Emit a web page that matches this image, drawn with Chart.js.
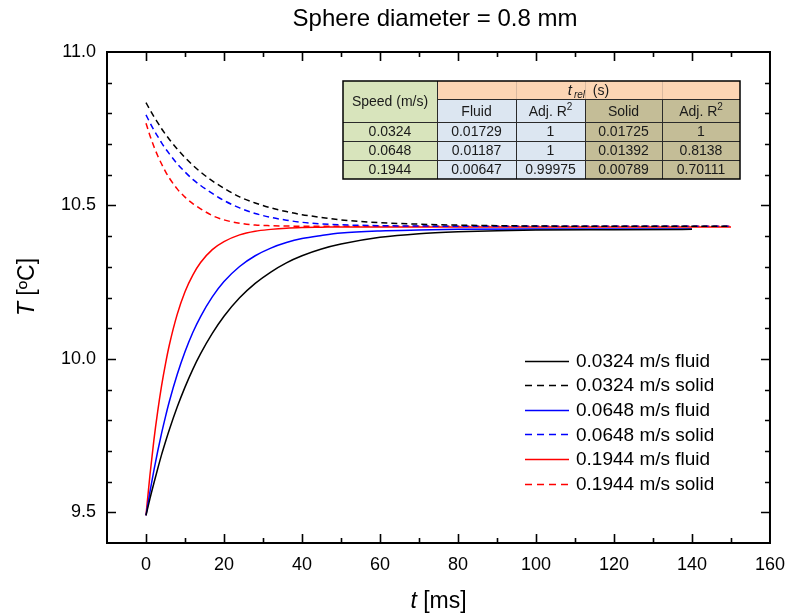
<!DOCTYPE html>
<html>
<head>
<meta charset="utf-8">
<script src="https://cdn.jsdelivr.net/npm/chart.js@4/dist/chart.umd.min.js"></script>
<style>
  html, body { margin: 0; padding: 0; background: #fff; }
  #wrap { width: 796px; height: 616px; }
</style>
</head>
<body>
<div id="wrap"><canvas id="c" width="796" height="616"></canvas></div>
<script>
// Sample times (ms)
const timeMs = [0, 1, 2, 3, 4, 5, 6, 8, 10, 12, 14, 17, 20, 24, 28, 32, 36, 40, 45, 50, 60, 70, 80, 100, 120, 140, 150];

// Temperature (°C) of the fluid and solid for each flow speed
const fluid0324 = [9.490, 9.544, 9.594, 9.642, 9.688, 9.730, 9.770, 9.843, 9.908, 9.966, 10.017, 10.083, 10.139, 10.199, 10.246, 10.283, 10.313, 10.336, 10.358, 10.374, 10.396, 10.408, 10.414, 10.420, 10.421, 10.422];
const solid0324 = [10.835, 10.812, 10.790, 10.770, 10.750, 10.732, 10.715, 10.684, 10.656, 10.631, 10.609, 10.580, 10.556, 10.528, 10.508, 10.492, 10.480, 10.470, 10.461, 10.453, 10.444, 10.439, 10.436, 10.433, 10.432, 10.432, 10.432];
const fluid0648 = [9.490, 9.566, 9.635, 9.699, 9.758, 9.812, 9.862, 9.949, 10.023, 10.086, 10.138, 10.202, 10.252, 10.301, 10.336, 10.361, 10.379, 10.392, 10.402, 10.410, 10.417, 10.420, 10.422, 10.423, 10.423, 10.423];
const solid0648 = [10.795, 10.770, 10.746, 10.725, 10.704, 10.685, 10.668, 10.636, 10.609, 10.585, 10.565, 10.539, 10.516, 10.492, 10.474, 10.461, 10.452, 10.445, 10.440, 10.437, 10.434, 10.433, 10.432, 10.432, 10.432, 10.432, 10.432];
const fluid1944 = [9.490, 9.620, 9.733, 9.829, 9.913, 9.984, 10.046, 10.145, 10.219, 10.273, 10.314, 10.356, 10.382, 10.404, 10.416, 10.422, 10.426, 10.428, 10.429, 10.430, 10.430, 10.430, 10.430, 10.430, 10.430, 10.430, 10.430];
const solid1944 = [10.768, 10.728, 10.693, 10.662, 10.635, 10.610, 10.589, 10.554, 10.527, 10.506, 10.489, 10.467, 10.453, 10.442, 10.436, 10.434, 10.433, 10.432, 10.432, 10.432, 10.432, 10.432, 10.432, 10.432, 10.432, 10.432, 10.432];

// Axis ticks
const xTickValues = [0, 20, 40, 60, 80, 100, 120, 140, 160];
const yTickValues = [9.5, 10.0, 10.5, 11.0];

// Relaxation-time table
const tableSpeeds = ['0.0324', '0.0648', '0.1944'];
const tableFluidTau = ['0.01729', '0.01187', '0.00647'];
const tableFluidR2 = ['1', '1', '0.99975'];
const tableSolidTau = ['0.01725', '0.01392', '0.00789'];
const tableSolidR2 = ['1', '0.8138', '0.70111'];

const FONT = '"Liberation Sans", Arial, sans-serif';

function series(values) {
  return values.map((v, i) => ({ x: timeMs[i], y: v }));
}
function line(label, values, color, dashed) {
  return {
    label, data: series(values), borderColor: color, backgroundColor: color,
    borderWidth: 1.5, borderDash: dashed ? [6, 4] : [], pointRadius: 0,
    fill: false, cubicInterpolationMode: 'monotone'
  };
}

const datasets = [
  line('0.0324 m/s fluid', fluid0324, '#000000', false),
  line('0.0324 m/s solid', solid0324, '#000000', true),
  line('0.0648 m/s fluid', fluid0648, '#0000ff', false),
  line('0.0648 m/s solid', solid0648, '#0000ff', true),
  line('0.1944 m/s fluid', fluid1944, '#ff0000', false),
  line('0.1944 m/s solid', solid1944, '#ff0000', true)
];

// Frame with inward major/minor ticks on all four sides
const frameTicks = {
  id: 'frameTicks',
  afterDatasetsDraw(chart) {
    const { ctx, chartArea: a, scales: { x, y } } = chart;
    ctx.save();
    ctx.strokeStyle = '#000';
    ctx.lineWidth = 1.6;
    ctx.beginPath();
    for (let k = -1; k <= 16; k++) {
      const px = Math.round(x.getPixelForValue(k * 10)) + 0.5;
      if (px < a.left + 1 || px > a.right - 1) continue;
      const len = (k % 2 === 0) ? 9 : 5;
      ctx.moveTo(px, a.bottom); ctx.lineTo(px, a.bottom - len);
      ctx.moveTo(px, a.top); ctx.lineTo(px, a.top + len);
    }
    for (let k = 94; k <= 110; k++) {
      const py = Math.round(y.getPixelForValue(k / 10)) + 0.5;
      if (py < a.top + 1 || py > a.bottom - 1) continue;
      const len = (k % 5 === 0) ? 9 : 5;
      ctx.moveTo(a.left, py); ctx.lineTo(a.left + len, py);
      ctx.moveTo(a.right, py); ctx.lineTo(a.right - len, py);
    }
    ctx.stroke();
    ctx.lineWidth = 2;
    ctx.strokeRect(a.left, a.top, a.right - a.left, a.bottom - a.top);
    ctx.restore();
  }
};

// Titles, legend and the relaxation-time table
const annotations = {
  id: 'annotations',
  afterDraw(chart) {
    const { ctx, chartArea: a } = chart;
    ctx.save();
    ctx.fillStyle = '#000';

    // chart title
    ctx.font = '24px ' + FONT;
    ctx.textAlign = 'center';
    ctx.textBaseline = 'alphabetic';
    ctx.fillText('Sphere diameter = 0.8 mm', 435, 26);

    // x axis title: italic t
    drawMixed(ctx, [['t', 'italic 23px ' + FONT], [' [ms]', '23px ' + FONT]], (a.left + a.right) / 2, 608);
    // y axis title, rotated
    ctx.save();
    ctx.translate(34, 287);
    ctx.rotate(-Math.PI / 2);
    drawMixed(ctx, [['T', 'italic 23px ' + FONT], [' [\u00baC]', '23px ' + FONT]], 0, 0);
    ctx.restore();

    // legend
    ctx.font = '19px ' + FONT;
    ctx.textAlign = 'left';
    ctx.textBaseline = 'middle';
    chart.data.datasets.forEach((ds, i) => {
      const yy = 360.5 + i * 24.6;
      ctx.strokeStyle = ds.borderColor;
      ctx.lineWidth = 1.5;
      ctx.setLineDash(ds.borderDash.length ? [7, 5] : []);
      ctx.beginPath();
      ctx.moveTo(525, Math.round(yy) + 0.5);
      ctx.lineTo(569, Math.round(yy) + 0.5);
      ctx.stroke();
      ctx.setLineDash([]);
      ctx.fillStyle = '#000';
      ctx.fillText(ds.label, 576, yy + 1);
    });

    drawTable(ctx);
    ctx.restore();
  }
};

function drawMixed(ctx, parts, cx, baseY) {
  let total = 0;
  parts.forEach(p => { ctx.font = p[1]; total += ctx.measureText(p[0]).width; });
  let xx = cx - total / 2;
  ctx.textAlign = 'left';
  ctx.textBaseline = 'alphabetic';
  parts.forEach(p => {
    ctx.font = p[1];
    ctx.fillText(p[0], xx, baseY);
    xx += ctx.measureText(p[0]).width;
  });
}

function drawTable(ctx) {
  const cols = [343, 437, 516, 585, 662, 740];
  const rows = [81, 99, 122, 141, 160, 179];
  const green = '#d8e4bc', peach = '#fcd5b4', blue = '#dce6f1', tan = '#c4bd97';
  ctx.fillStyle = green;
  ctx.fillRect(cols[0], rows[0], cols[1] - cols[0], rows[5] - rows[0]);
  ctx.fillStyle = peach;
  ctx.fillRect(cols[1], rows[0], cols[5] - cols[1], rows[1] - rows[0]);
  ctx.fillStyle = blue;
  ctx.fillRect(cols[1], rows[1], cols[3] - cols[1], rows[5] - rows[1]);
  ctx.fillStyle = tan;
  ctx.fillRect(cols[3], rows[1], cols[5] - cols[3], rows[5] - rows[1]);

  // inner grid
  ctx.strokeStyle = '#2a2a2a';
  ctx.lineWidth = 1;
  ctx.beginPath();
  for (let r = 2; r <= 4; r++) {
    ctx.moveTo(cols[0], rows[r] + 0.5); ctx.lineTo(cols[5], rows[r] + 0.5);
  }
  ctx.moveTo(cols[1], rows[1] + 0.5); ctx.lineTo(cols[5], rows[1] + 0.5);
  for (let c = 1; c <= 4; c++) {
    const top = c === 1 ? rows[0] : rows[1];
    ctx.moveTo(cols[c] + 0.5, top); ctx.lineTo(cols[c] + 0.5, rows[5]);
  }
  ctx.stroke();
  // faint column guides inside the merged header
  ctx.strokeStyle = '#d9b9a0';
  ctx.beginPath();
  for (let c = 2; c <= 4; c++) {
    ctx.moveTo(cols[c] + 0.5, rows[0]); ctx.lineTo(cols[c] + 0.5, rows[1]);
  }
  ctx.stroke();
  // outer border
  ctx.strokeStyle = '#000';
  ctx.lineWidth = 1.5;
  ctx.strokeRect(cols[0], rows[0], cols[5] - cols[0], rows[5] - rows[0]);

  const cx = i => (cols[i] + cols[i + 1]) / 2;
  const cy = r => (rows[r] + rows[r + 1]) / 2;
  ctx.fillStyle = '#1a1a1a';
  ctx.textBaseline = 'middle';
  ctx.textAlign = 'center';
  ctx.font = '14px ' + FONT;
  ctx.fillText('Speed (m/s)', cx(0), (rows[0] + rows[2]) / 2 + 1);

  // merged header: t_rel (s)
  const f1 = 'italic 15px ' + FONT, f2 = 'italic 10px ' + FONT, f3 = '14px ' + FONT;
  ctx.textAlign = 'left';
  ctx.textBaseline = 'alphabetic';
  ctx.font = f1; const w1 = ctx.measureText('t').width;
  ctx.font = f2; const w2 = ctx.measureText('rel').width;
  ctx.font = f3; const w3 = ctx.measureText('  (s)').width;
  let hx = (cols[1] + cols[5]) / 2 - (w1 + 2 + w2 + w3) / 2;
  const hb = rows[1] - 4;
  ctx.font = f1; ctx.fillText('t', hx, hb); hx += w1 + 2;
  ctx.font = f2; ctx.fillText('rel', hx, hb + 3); hx += w2;
  ctx.font = f3; ctx.fillText('  (s)', hx, hb);

  // second header row
  ctx.textAlign = 'center';
  ctx.textBaseline = 'middle';
  ctx.font = '14px ' + FONT;
  ctx.fillText('Fluid', cx(1), cy(1) + 2);
  ctx.fillText('Solid', cx(3), cy(1) + 2);
  [2, 4].forEach(i => {
    ctx.font = '14px ' + FONT;
    const wa = ctx.measureText('Adj. R').width;
    ctx.font = '10px ' + FONT;
    const wb = ctx.measureText('2').width;
    const sx = cx(i) - (wa + wb) / 2;
    ctx.textAlign = 'left';
    ctx.font = '14px ' + FONT;
    ctx.fillText('Adj. R', sx, cy(1) + 2);
    ctx.font = '10px ' + FONT;
    ctx.fillText('2', sx + wa, cy(1) - 3);
    ctx.textAlign = 'center';
  });

  // data rows
  ctx.font = '14px ' + FONT;
  tableSpeeds.forEach((s, r) => {
    const yy = cy(r + 2) + 1;
    ctx.fillText(s, cx(0), yy);
    ctx.fillText(tableFluidTau[r], cx(1), yy);
    ctx.fillText(tableFluidR2[r], cx(2), yy);
    ctx.fillText(tableSolidTau[r], cx(3), yy);
    ctx.fillText(tableSolidR2[r], cx(4), yy);
  });
}

const tickFont = { family: FONT, size: 18 };

new Chart(document.getElementById('c'), {
  type: 'line',
  data: { datasets },
  options: {
    responsive: false,
    animation: false,
    events: [],
    layout: { padding: { top: 52, right: 19, left: 0, bottom: 0 } },
    plugins: { legend: { display: false }, title: { display: false }, tooltip: { enabled: false } },
    scales: {
      x: {
        type: 'linear', min: -10, max: 160,
        afterBuildTicks: s => { s.ticks = xTickValues.map(v => ({ value: v })); },
        afterFit: s => { s.height = 73; },
        grid: { display: false, drawTicks: false },
        border: { display: false },
        ticks: { font: tickFont, color: '#000', padding: 11, maxRotation: 0, autoSkip: false,
                 callback: v => String(v) }
      },
      y: {
        type: 'linear', min: 9.4, max: 11.0,
        afterBuildTicks: s => { s.ticks = yTickValues.map(v => ({ value: v })); },
        afterFit: s => { s.width = 107; },
        grid: { display: false, drawTicks: false },
        border: { display: false },
        ticks: { font: tickFont, color: '#000', padding: 11, autoSkip: false,
                 callback: v => Number(v).toFixed(1) }
      }
    }
  },
  plugins: [frameTicks, annotations]
});
</script>
</body>
</html>
